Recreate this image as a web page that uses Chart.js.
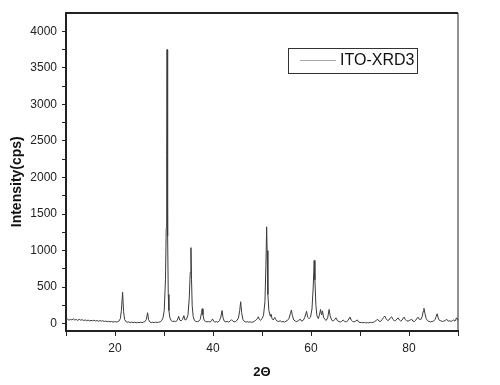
<!DOCTYPE html>
<html lang="en">

<head>
  <meta charset="UTF-8">
  <title>ITO-XRD3</title>
  <script src="https://cdn.jsdelivr.net/npm/chart.js@4/dist/chart.umd.min.js"></script>
  <style>
    body { margin: 0; background: #fff; }
    #wrap { width: 500px; height: 385px; }
  </style>
</head>

<body>
  <div id="wrap">
    <canvas id="xrd" width="500" height="385"></canvas>
  </div>
  <script>
    // values (2θ in degrees, intensity in cps)
    var seriesName = 'ITO-XRD3';
    var twoTheta = [
      10.0, 10.3, 10.6, 10.9, 11.2, 11.5, 11.8, 12.1, 12.4, 12.7, 13.0, 13.3, 13.6, 13.9, 14.2, 14.5, 14.8, 15.1, 15.4, 15.7,
      16.0, 16.3, 16.6, 16.9, 17.2, 17.5, 17.8, 18.1, 18.4, 18.7, 19.0, 19.3, 19.6, 19.9, 20.2, 20.5, 20.8, 21.1, 21.3, 21.55,
      21.75, 21.95, 22.2, 22.5, 22.8, 23.1, 23.4, 23.7, 24.0, 24.3, 24.6, 24.9, 25.2, 25.5, 25.8, 26.1, 26.4, 26.65, 26.85, 27.1,
      27.4, 27.7, 28.0, 28.3, 28.6, 28.9, 29.2, 29.5, 29.8, 30.05, 30.3, 30.45, 30.55, 30.62, 30.7, 30.78, 30.87, 31.0, 31.2, 31.5,
      31.8, 32.1, 32.4, 32.7, 33.0, 33.2, 33.5, 33.8, 34.05, 34.3, 34.6, 34.9, 35.15, 35.35, 35.5, 35.62, 35.75, 35.95, 36.2, 36.5,
      36.8, 37.1, 37.4, 37.65, 37.8, 37.95, 38.2, 38.5, 38.8, 39.1, 39.4, 39.7, 39.9, 40.1, 40.4, 40.7, 41.0, 41.3, 41.6, 41.85,
      42.05, 42.3, 42.6, 42.9, 43.2, 43.5, 43.8, 44.0, 44.3, 44.6, 44.9, 45.2, 45.45, 45.65, 45.85, 46.1, 46.4, 46.7, 47.0, 47.3,
      47.6, 47.9, 48.2, 48.5, 48.8, 49.1, 49.25, 49.45, 49.7, 50.0, 50.3, 50.6, 50.8, 50.95, 51.05, 51.2, 51.4, 51.7, 51.85, 52.05,
      52.3, 52.6, 52.85, 53.1, 53.4, 53.7, 54.0, 54.3, 54.6, 54.9, 55.2, 55.5, 55.8, 56.0, 56.2, 56.5, 56.8, 57.1, 57.4, 57.8,
      58.1, 58.4, 58.7, 58.95, 59.1, 59.3, 59.6, 59.9, 60.2, 60.45, 60.65, 60.8, 61.0, 61.2, 61.5, 61.75, 61.95, 62.15, 62.35, 62.55,
      62.8, 63.1, 63.4, 63.7, 63.9, 64.2, 64.5, 64.8, 65.1, 65.4, 65.7, 66.0, 66.3, 66.6, 66.9, 67.2, 67.5, 67.8, 67.95, 68.2,
      68.5, 68.8, 69.1, 69.45, 69.7, 70.0, 70.3, 70.6, 70.9, 71.2, 71.5, 71.8, 72.1, 72.4, 72.7, 73.0, 73.3, 73.6, 73.9, 74.2,
      74.5, 74.8, 75.05, 75.3, 75.6, 75.9, 76.2, 76.45, 76.7, 77.0, 77.3, 77.55, 77.8, 78.05, 78.3, 78.6, 78.8, 79.0, 79.25, 79.5,
      79.8, 80.1, 80.4, 80.55, 80.8, 81.1, 81.4, 81.7, 81.85, 82.1, 82.4, 82.7, 82.9, 83.05, 83.25, 83.5, 83.8, 84.1, 84.4, 84.7,
      85.0, 85.3, 85.55, 85.75, 85.95, 86.2, 86.5, 86.8, 87.1, 87.4, 87.7, 88.0, 88.3, 88.6, 88.9, 89.1, 89.4, 89.7, 90.0
    ];
    var intensity = [
      55, 62, 48, 60, 52, 66, 50, 58, 45, 60, 48, 55, 42, 52, 40, 50, 38, 45, 40, 48,
      36, 44, 34, 42, 35, 40, 30, 36, 28, 32, 25, 30, 22, 28, 24, 26, 35, 70, 180, 430,
      170, 60, 30, 20, 25, 15, 22, 14, 20, 12, 18, 14, 20, 15, 22, 28, 60, 150, 55, 25,
      15, 20, 14, 22, 16, 20, 25, 40, 80, 180, 600, 1300, 2300, 3750, 3500, 1200, 400, 180, 80, 40,
      30, 35, 28, 45, 100, 50, 40, 60, 110, 50, 60, 120, 350, 700, 1040, 600, 250, 100, 45, 30,
      28, 35, 60, 150, 205, 120, 45, 30, 25, 30, 22, 40, 65, 35, 22, 28, 20, 40, 90, 180,
      80, 35, 25, 30, 22, 35, 55, 40, 25, 30, 45, 80, 180, 300, 150, 60, 30, 22, 28, 20,
      25, 18, 25, 35, 55, 70, 95, 60, 45, 70, 110, 300, 800, 1325, 1000, 400, 180, 100, 130, 70,
      50, 85, 55, 35, 30, 40, 25, 30, 22, 35, 45, 70, 140, 186, 110, 50, 35, 28, 40, 62,
      35, 45, 80, 140, 170, 90, 70, 90, 200, 500, 865, 600, 250, 110, 70, 130, 195, 120, 175, 90,
      60, 45, 80, 195, 110, 50, 35, 55, 80, 40, 30, 22, 35, 50, 28, 25, 40, 75, 90, 50,
      30, 25, 35, 52, 25, 15, 18, 12, 16, 10, 15, 12, 18, 14, 20, 28, 45, 60, 35, 30,
      55, 85, 105, 70, 45, 50, 80, 95, 60, 40, 45, 65, 80, 50, 35, 50, 75, 90, 55, 40,
      35, 45, 55, 60, 35, 30, 50, 80, 90, 60, 55, 100, 170, 210, 140, 70, 40, 30, 25, 30,
      35, 55, 100, 136, 80, 45, 40, 30, 35, 45, 60, 35, 40, 30, 45, 50, 35, 80, 40
    ];
    var xTicks = [10, 20, 30, 40, 50, 60, 70, 80, 90];
    var xLabels = [20, 40, 60, 80];
    var yTicks = [0, 250, 500, 750, 1000, 1250, 1500, 1750, 2000, 2250, 2500, 2750, 3000, 3250, 3500, 3750, 4000];
    var yLabels = [0, 500, 1000, 1500, 2000, 2500, 3000, 3500, 4000];

    var points = [];
    for (var i in twoTheta) {
      points.push({ x: twoTheta[i], y: intensity[i] });
    }

    var fontName = '"Liberation Sans", Arial, sans-serif';

    // top/right frame lines and the boxed legend in the upper right
    var framePlugin = {
      id: 'frame',
      afterDraw: function (chart) {
        var c = chart.ctx, a = chart.chartArea;
        c.save();
        c.strokeStyle = '#222';
        c.lineWidth = 2;
        c.beginPath();
        c.moveTo(a.left, a.top);
        c.lineTo(a.right, a.top);
        c.stroke();
        c.lineWidth = 1;
        c.beginPath();
        c.moveTo(a.right, a.top);
        c.lineTo(a.right, a.bottom);
        c.stroke();

        // legend box
        var bx = a.right - 170, by = a.top + 35;
        c.fillStyle = '#fff';
        c.fillRect(bx, by, 129, 25);
        c.strokeStyle = '#333';
        c.lineWidth = 1;
        c.strokeRect(bx + 0.5, by + 0.5, 129, 25);
        c.strokeStyle = '#aaa';
        c.beginPath();
        c.moveTo(bx + 12, by + 12.5);
        c.lineTo(bx + 48, by + 12.5);
        c.stroke();
        c.fillStyle = '#111';
        c.font = '16px ' + fontName;
        c.textBaseline = 'middle';
        c.fillText(seriesName, bx + 52, by + 13);
        c.restore();
      }
    };

    var ctx = document.getElementById('xrd');
    var xrdChart = new Chart(ctx, {
      type: 'line',
      data: {
        datasets: [{
          label: seriesName,
          data: points,
          borderColor: '#3a3a3a',
          borderWidth: 1,
          pointRadius: 0,
          tension: 0,
          fill: false
        }]
      },
      options: {
        responsive: false,
        animation: false,
        layout: { padding: { top: 13, right: 42, left: 0, bottom: 0 } },
        plugins: {
          legend: { display: false },
          tooltip: { enabled: false }
        },
        scales: {
          x: {
            type: 'linear',
            min: 10,
            max: 90,
            afterBuildTicks: function (s) { s.ticks = xTicks.map(function (v) { return { value: v }; }); },
            afterFit: function (s) { s.height = 54; },
            grid: { drawOnChartArea: false, tickLength: 5, tickColor: '#222', tickWidth: 1 },
            border: { color: '#222', width: 2 },
            ticks: {
              padding: 5,
              color: '#222',
              maxRotation: 0,
              autoSkip: false,
              font: { family: fontName, size: 12 },
              callback: function (v) { return xLabels.indexOf(v) >= 0 ? String(v) : ''; }
            },
            title: {
              display: true,
              text: '2Θ',
              color: '#111',
              padding: { top: 0, bottom: 5 },
              font: { family: fontName, size: 13, weight: 'bold' }
            }
          },
          y: {
            min: -100,
            max: 4250,
            afterBuildTicks: function (s) { s.ticks = yTicks.map(function (v) { return { value: v }; }); },
            afterFit: function (s) { s.width = 66; },
            grid: { drawOnChartArea: false, tickLength: 4, tickColor: '#222', tickWidth: 1 },
            border: { color: '#222', width: 2 },
            ticks: {
              padding: 5,
              color: '#222',
              autoSkip: false,
              font: { family: fontName, size: 12 },
              callback: function (v) { return yLabels.indexOf(v) >= 0 ? String(v) : ''; }
            },
            title: {
              display: true,
              // trailing spaces push the centred title a little lower, as in the original
              text: 'Intensity(cps)     ',
              color: '#111',
              padding: { top: 9, bottom: 0 },
              font: { family: fontName, size: 14, weight: 'bold' }
            }
          }
        }
      },
      plugins: [framePlugin]
    });
  </script>

</body>

</html>
